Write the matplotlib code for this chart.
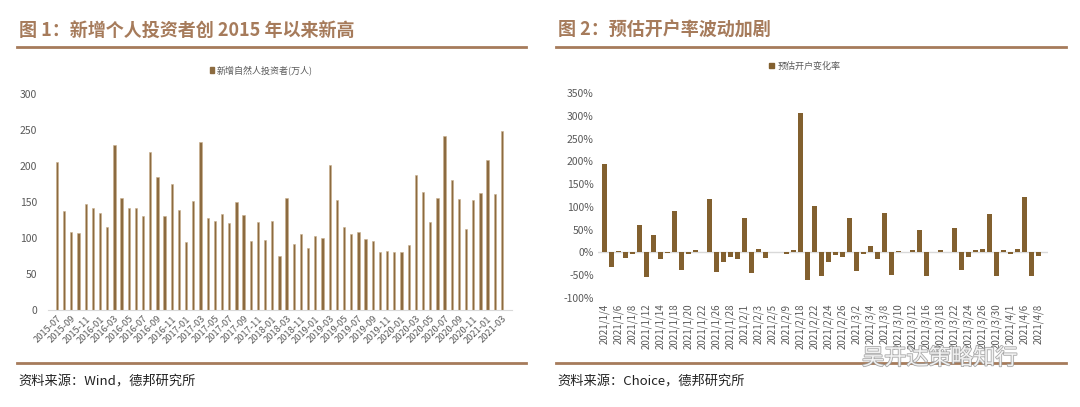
import matplotlib
matplotlib.use("Agg")
import matplotlib.pyplot as plt
import matplotlib.patches as mpatches
import matplotlib.patheffects as pe
from matplotlib.ticker import FuncFormatter, MultipleLocator

plt.rcParams['font.family'] = ['Noto Sans CJK SC', 'DejaVu Sans']

# 图1 数据：新增自然人投资者(万人)
months = (
    ["2015-%02d" % m for m in range(7, 13)]
    + ["2016-%02d" % m for m in range(1, 13)]
    + ["2017-%02d" % m for m in range(1, 13)]
    + ["2018-01", "2018-02", "2018-03", "2018-04", "2018-11", "2018-12"]
    + ["2019-%02d" % m for m in range(1, 13)]
    + ["2020-%02d" % m for m in range(1, 13)]
    + ["2021-01", "2021-02", "2021-03"]
)
new_investors = [
    205, 137, 108, 107, 147, 141, 135, 115, 229, 155, 142, 142, 131, 219, 185, 131,
    175, 139, 95, 151, 233, 128, 124, 133, 121, 150, 132, 96, 122, 97, 123, 75,
    156, 91, 105, 86, 103, 100, 202, 153, 115, 106, 109, 99, 96, 80, 82, 81,
    80, 90, 188, 164, 122, 155, 242, 180, 154, 112, 153, 162, 209, 161, 248,
]

# 图2 数据：预估开户变化率(%)
days = (
    ["2021/1/%d" % d for d in [4, 5, 6, 7, 8, 11, 12, 13, 14, 15, 18, 19, 20, 21, 22,
                                25, 26, 27, 28, 29]]
    + ["2021/2/%d" % d for d in [1, 2, 3, 4, 5, 8, 9, 10, 18, 19, 22, 23, 24, 25, 26]]
    + ["2021/3/%d" % d for d in [1, 2, 3, 4, 5, 8, 9, 10, 11, 12, 15, 16, 17, 18, 19,
                                22, 23, 24, 25, 26, 29, 30, 31]]
    + ["2021/4/%d" % d for d in [1, 2, 6, 7, 8]]
)
open_rate = [
    194, -33, 3, -12, -4, 60, -53, 39, -15, -2, 91, -39, -4, 6, 0.5, 117,
    -44, -20, -9, -15, 75, -46, 7, -12, 0, 0, -3, 6, 306, -60, 103, -52,
    -20, -6, -9, 76, -41, -4, 14, -15, 87, -49, 4, 0.5, 6, 49, -51, 0.5,
    6, 0.5, 53, -39, -9, 6, 8, 85, -52, 6, -4, 8, 122, -51, -7,
]

BROWN = "#a67b5b"
BAR1 = "#8c6b40"
BAR2 = "#82602f"
TICK = "#595959"

W, H = 1080, 407
fig = plt.figure(figsize=(W / 100, H / 100), dpi=100)
fig.patch.set_facecolor("white")


def fx(px):
    return px / W


def fy(py):
    return 1 - py / H


# 标题与分隔线
fig.text(fx(19), fy(30), "图 1：新增个人投资者创 2015 年以来新高", fontsize=13,
         fontweight="bold", color=BROWN, va="center", ha="left")
fig.text(fx(558), fy(30), "图 2：预估开户率波动加剧", fontsize=13,
         fontweight="bold", color=BROWN, va="center", ha="left")
for x0, x1 in [(17, 526), (556, 1066)]:
    fig.add_artist(plt.Line2D([fx(x0), fx(x1)], [fy(47), fy(47)], color=BROWN, lw=2))
    fig.add_artist(plt.Line2D([fx(x0), fx(x1)], [fy(363), fy(363)], color=BROWN, lw=2))

fig.text(fx(18), fy(382), "资料来源：Wind，德邦研究所", fontsize=9.5, color="#222222",
         va="center", ha="left")
fig.text(fx(557), fy(382), "资料来源：Choice，德邦研究所", fontsize=9.5, color="#222222",
         va="center", ha="left")

# 左图
ax1 = fig.add_axes([fx(48), fy(310), fx(512 - 48), fy(94) - fy(310)])
x1 = list(range(len(months)))
ax1.bar(x1, new_investors, width=0.32, color=BAR1, edgecolor="#c9b08c", linewidth=0.4)
ax1.set_xlim(-1.25, len(months) + 0.4)
ax1.set_ylim(0, 300)
ax1.yaxis.set_major_locator(MultipleLocator(50))
ax1.set_xticks(x1[::2])
ax1.set_xticklabels(months[::2], rotation=45, ha="right", rotation_mode="anchor",
                    fontsize=6.7, color=TICK)
for lab in ax1.get_yticklabels():
    lab.set_fontsize(7.5)
    lab.set_color(TICK)
ax1.tick_params(axis="both", length=0, pad=3)
ax1.tick_params(axis="y", pad=8)
for s in ["top", "right", "left"]:
    ax1.spines[s].set_visible(False)
ax1.spines["bottom"].set_color("#d9d9d9")
ax1.legend(handles=[mpatches.Patch(color=BAR1, label="新增自然人投资者(万人)")],
           loc="center", bbox_to_anchor=(0.46, 1.11), frameon=False, fontsize=6.5,
           handlelength=0.5, handleheight=0.5, handletextpad=0.3, labelcolor=TICK)

# 右图
ax2 = fig.add_axes([fx(598), fy(298), fx(1048 - 598), fy(93) - fy(298)])
x2 = list(range(len(days)))
ax2.bar(x2, open_rate, width=0.72, color=BAR2)
ax2.axhline(0, color="#d9d9d9", lw=1, zorder=0)
ax2.set_xlim(-0.86, len(days) + 0.4)
ax2.set_ylim(-100, 350)
ax2.yaxis.set_major_locator(MultipleLocator(50))
ax2.yaxis.set_major_formatter(FuncFormatter(lambda v, p: "%d%%" % v))
ax2.set_xticks(x2[::2])
ax2.set_xticklabels(days[::2], rotation=90, fontsize=7, color=TICK, va="top")
for lab in ax2.get_yticklabels():
    lab.set_fontsize(7.5)
    lab.set_color(TICK)
ax2.tick_params(axis="both", length=0)
ax2.tick_params(axis="x", pad=4)
ax2.tick_params(axis="y", pad=3)
for s in ax2.spines.values():
    s.set_visible(False)
ax2.legend(handles=[mpatches.Patch(color=BAR2, label="预估开户变化率")],
           loc="center", bbox_to_anchor=(0.46, 1.13), frameon=False, fontsize=6.5,
           handlelength=0.5, handleheight=0.5, handletextpad=0.5, labelcolor=TICK)

# 水印
fig.text(fx(862), fy(358), "吴开达策略知行", fontsize=16, color="white", alpha=0.85,
         va="center", ha="left",
         path_effects=[pe.withStroke(linewidth=1.2, foreground="#9a9a9a")])

fig.savefig("out.png", dpi=100, facecolor="white")
